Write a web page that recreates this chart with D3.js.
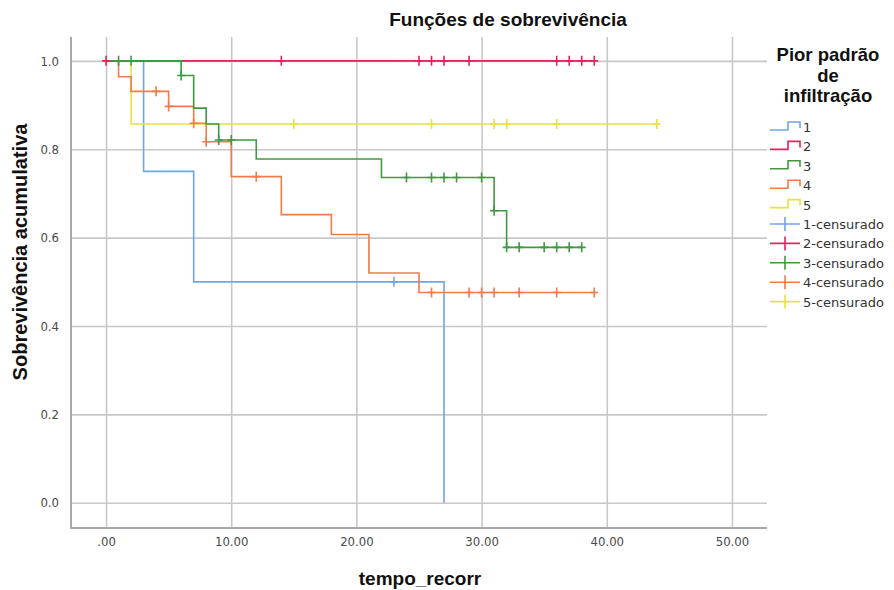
<!DOCTYPE html>
<html>
<head>
<meta charset="utf-8">
<script src="https://cdn.jsdelivr.net/npm/d3@7"></script>
<style>
  html, body { margin: 0; padding: 0; background: #fff; }
  svg { display: block; }
  .tick-label { font-family: "Liberation Sans Narrow", "DejaVu Sans Condensed", "Liberation Sans", Arial, sans-serif; font-size: 13px; fill: #4a4a4a; }
  .bold { font-family: "Liberation Sans", Arial, sans-serif; font-weight: bold; fill: #111; }
  .legend-text { font-family: "DejaVu Sans", "Liberation Sans", Arial, sans-serif; font-size: 13px; fill: #333; }
</style>
</head>
<body>
<svg id="chart" width="894" height="590"></svg>
<script>
// Kaplan-Meier survival by worst infiltration pattern
const groupNames = ["1", "2", "3", "4", "5"];
const groupColors = ["#6ea6e6", "#e2245c", "#3f9a3f", "#f07c4c", "#e8e23c"];

// step times (event times) and survival after each step
const g1Times = [0, 3, 7, 27];
const g1Surv = [1.0, 0.75, 0.5, 0.0];
const g1Censored = [23];
const g1End = 27;

const g2Times = [0];
const g2Surv = [1.0];
const g2Censored = [0, 14, 25, 26, 27, 29, 36, 37, 38, 39];
const g2End = 39;

const g3Times = [0, 6, 7, 8, 9, 12, 22, 31, 32];
const g3Surv = [1.0, 0.967, 0.893, 0.857, 0.821, 0.778, 0.736, 0.661, 0.578];
const g3Censored = [1, 2, 6, 9, 10, 24, 26, 27, 28, 30, 31, 32, 33, 35, 36, 37, 38];
const g3End = 38;

const g4Times = [0, 1, 2, 5, 7, 8, 10, 14, 18, 21, 25];
const g4Surv = [1.0, 0.964, 0.931, 0.897, 0.859, 0.817, 0.738, 0.652, 0.607, 0.52, 0.476];
const g4Censored = [4, 5, 7, 8, 12, 26, 29, 30, 31, 33, 36, 39];
const g4End = 39;

const g5Times = [0, 2];
const g5Surv = [1.0, 0.857];
const g5Censored = [15, 26, 31, 32, 36, 44];
const g5End = 44;

const xTicks = [0, 10, 20, 30, 40, 50];
const yTicks = [0, 0.2, 0.4, 0.6, 0.8, 1.0];

const titleText = "Funções de sobrevivência";
const xTitle = "tempo_recorr";
const yTitle = "Sobrevivência acumulativa";
const legendTitle = ["Pior padrão", "de", "infiltração"];
const legendLabels = ["1", "2", "3", "4", "5", "1-censurado", "2-censurado", "3-censurado", "4-censurado", "5-censurado"];

const groups = [
  { times: g1Times, surv: g1Surv, cens: g1Censored, end: g1End },
  { times: g2Times, surv: g2Surv, cens: g2Censored, end: g2End },
  { times: g3Times, surv: g3Surv, cens: g3Censored, end: g3End },
  { times: g4Times, surv: g4Surv, cens: g4Censored, end: g4End },
  { times: g5Times, surv: g5Surv, cens: g5Censored, end: g5End }
].map((g, i) => Object.assign(g, { name: groupNames[i], color: groupColors[i] }));

const svg = d3.select("#chart");
const pLeft = 71, pRight = 767, pTop = 37, pBottom = 528;

const x = d3.scaleLinear().domain([-2.8, 52.8]).range([pLeft, pRight]);
const y = d3.scaleLinear().domain([-0.057, 1.054]).range([pBottom, pTop]);

// grid
svg.append("g")
  .attr("transform", `translate(0,${pBottom})`)
  .call(d3.axisBottom(x).tickValues(xTicks).tickSize(-(pBottom - pTop)).tickFormat(""))
  .call(g => g.select(".domain").remove())
  .call(g => g.selectAll("line").attr("stroke", "#c8c8c8").attr("stroke-width", 1.6));
svg.append("g")
  .attr("transform", `translate(${pLeft},0)`)
  .call(d3.axisLeft(y).tickValues(yTicks).tickSize(-(pRight - pLeft)).tickFormat(""))
  .call(g => g.select(".domain").remove())
  .call(g => g.selectAll("line").attr("stroke", "#c8c8c8").attr("stroke-width", 1.6));

// axis frame (left and bottom)
svg.append("path")
  .attr("d", `M${pLeft},${pTop}V${pBottom}H${pRight}`)
  .attr("fill", "none").attr("stroke", "#a8a8a8").attr("stroke-width", 2);

// tick labels
const fmtX = v => v === 0 ? ".00" : d3.format(".2f")(v);
svg.append("g")
  .attr("transform", `translate(0,${pBottom})`)
  .call(d3.axisBottom(x).tickValues(xTicks).tickSize(0).tickPadding(9).tickFormat(fmtX))
  .call(g => g.select(".domain").remove())
  .call(g => g.selectAll("text").attr("class", "tick-label").attr("fill", null).attr("font-size", null).attr("font-family", null));
svg.append("g")
  .attr("transform", `translate(${pLeft - 12},0)`)
  .call(d3.axisLeft(y).tickValues(yTicks).tickSize(0).tickPadding(0).tickFormat(d3.format(".1f")))
  .call(g => g.select(".domain").remove())
  .call(g => g.selectAll("text").attr("class", "tick-label").attr("fill", null).attr("font-size", null).attr("font-family", null));

// survival step curves
function stepPath(g) {
  const pts = [];
  for (let i = 0; i < g.times.length; i++) {
    if (i > 0) pts.push([g.times[i], g.surv[i - 1]]);
    pts.push([g.times[i], g.surv[i]]);
  }
  const last = g.times[g.times.length - 1];
  if (g.end > last) pts.push([g.end, g.surv[g.surv.length - 1]]);
  return d3.line().x(d => x(d[0])).y(d => y(d[1]))(pts);
}
function survAt(g, t) {
  let s = g.surv[0];
  for (let i = 0; i < g.times.length; i++) if (g.times[i] <= t) s = g.surv[i];
  return s;
}

const drawOrder = [0, 4, 3, 1, 2];
const plot = svg.append("g");
drawOrder.forEach(i => {
  const g = groups[i];
  plot.append("path")
    .attr("d", stepPath(g))
    .attr("fill", "none")
    .attr("stroke", g.color)
    .attr("stroke-width", 1.6);
});
drawOrder.forEach(i => {
  const g = groups[i];
  plot.append("g").selectAll("path")
    .data(g.cens)
    .join("path")
    .attr("d", t => {
      const cx = x(t), cy = y(survAt(g, t));
      return `M${cx},${cy - 5}V${cy + 5}M${cx - 4},${cy}H${cx + 4}`;
    })
    .attr("stroke", g.color)
    .attr("stroke-width", 1.6)
    .attr("fill", "none");
});

// titles
svg.append("text").attr("class", "bold")
  .attr("x", 508).attr("y", 26).attr("text-anchor", "middle")
  .attr("font-size", 19).text(titleText);
svg.append("text").attr("class", "bold")
  .attr("x", 420).attr("y", 585).attr("text-anchor", "middle")
  .attr("font-size", 19).text(xTitle);
svg.append("text").attr("class", "bold")
  .attr("transform", `translate(27,252) rotate(-90)`)
  .attr("text-anchor", "middle")
  .attr("font-size", 20).text(yTitle);

// legend
const legend = svg.append("g");
legendTitle.forEach((t, i) => {
  legend.append("text").attr("class", "bold")
    .attr("x", 828).attr("y", 61 + i * 20.5).attr("text-anchor", "middle")
    .attr("font-size", 18.5).text(t);
});
legendLabels.forEach((label, i) => {
  const cy = 127 + i * 19.4;
  const color = groupColors[i % 5];
  const item = legend.append("g");
  if (i < 5) {
    item.append("path")
      .attr("d", `M770,${cy + 3}H788V${cy - 5}H800V${cy + 1}`)
      .attr("fill", "none").attr("stroke", color).attr("stroke-width", 1.6);
  } else {
    item.append("path")
      .attr("d", `M770,${cy}H800M785,${cy - 7}V${cy + 7}`)
      .attr("fill", "none").attr("stroke", color).attr("stroke-width", 1.6);
  }
  item.append("text").attr("class", "legend-text")
    .attr("x", 803).attr("y", cy + 5).text(label);
});
</script>
</body>
</html>
